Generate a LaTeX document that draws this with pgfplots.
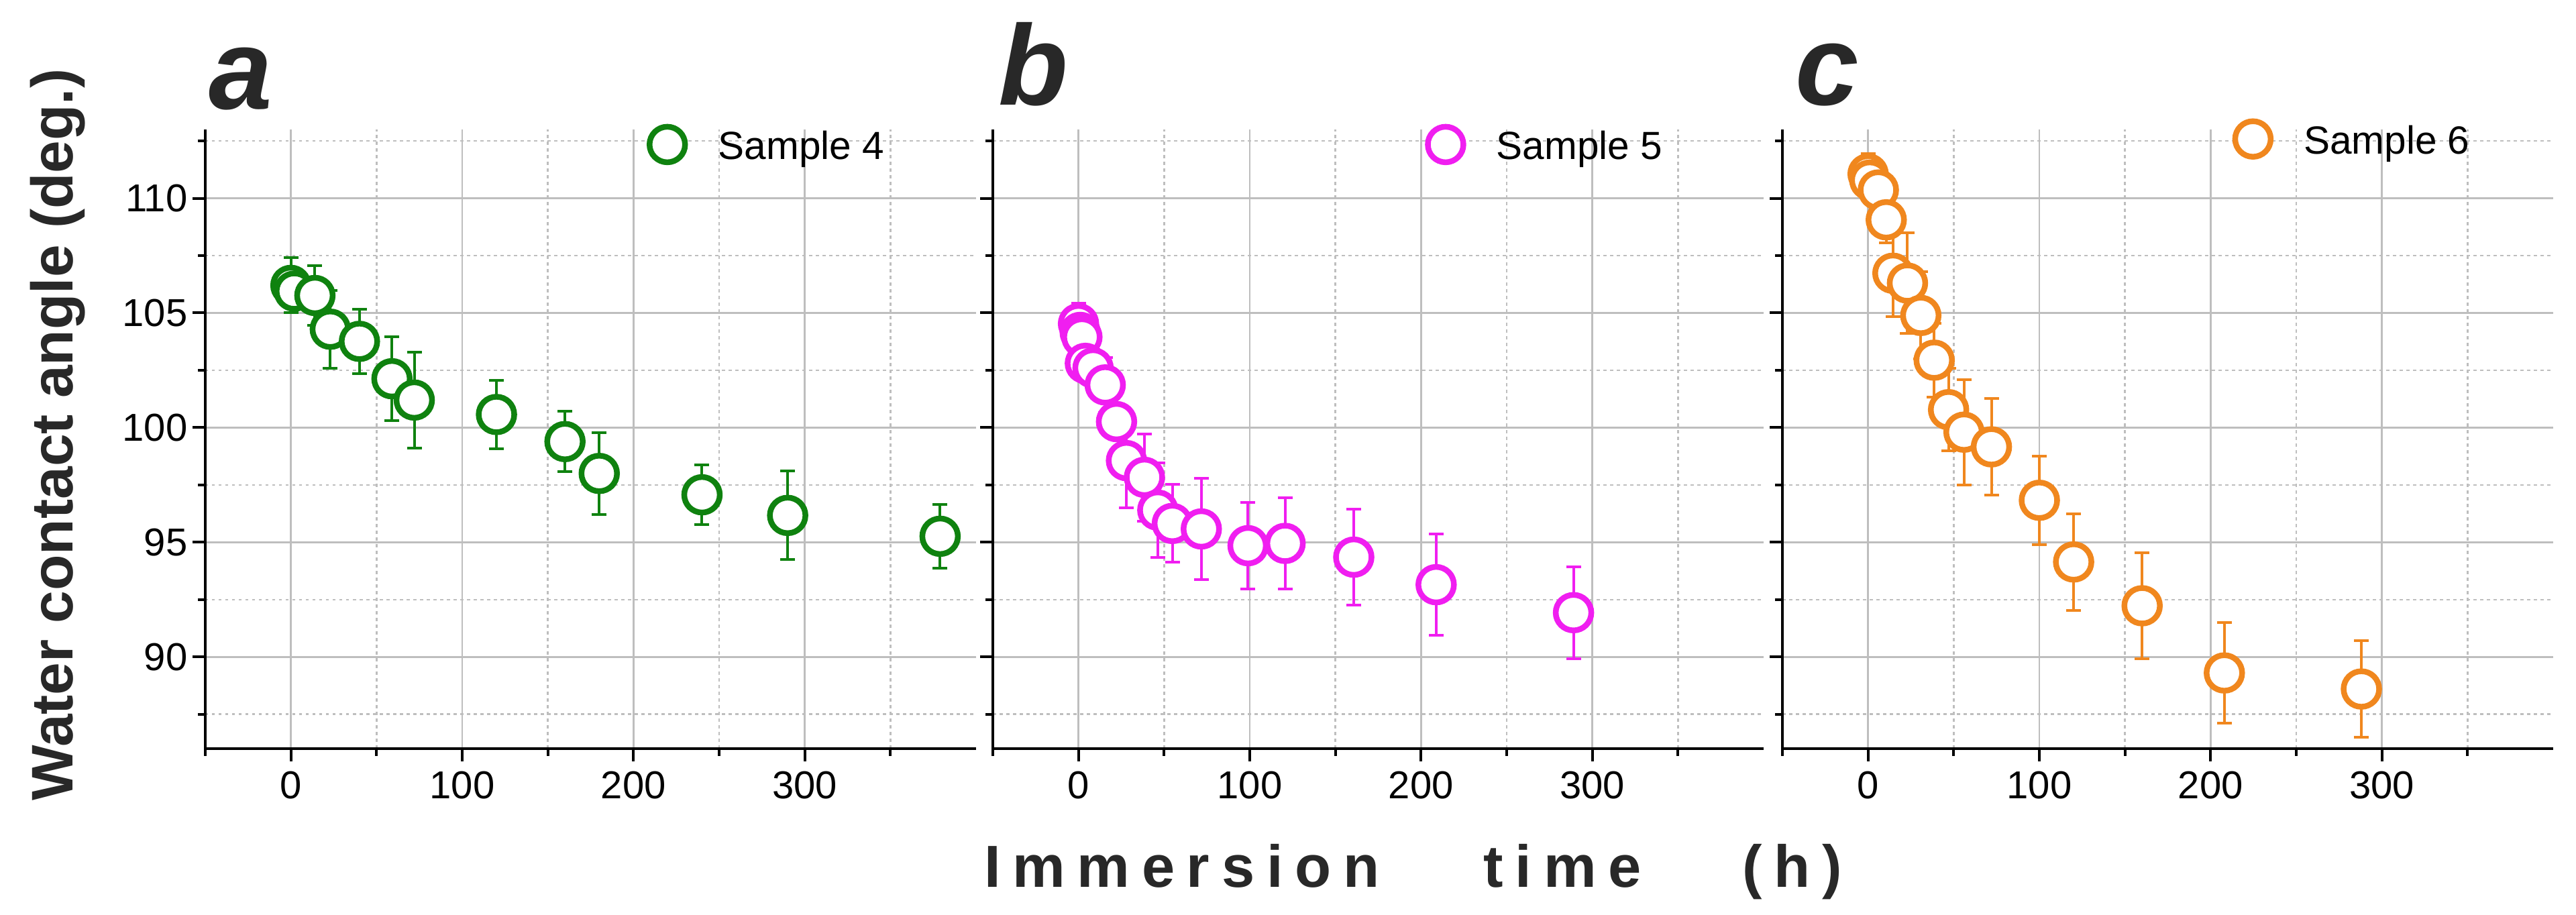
\documentclass[border=0pt]{standalone}
\usepackage{fontspec}
\setmainfont{Liberation Sans}
\newfontfamily\spaced[LetterSpace=20]{Liberation Sans}
\usepackage{pgfplots}
\pgfplotsset{compat=1.18}
\definecolor{cA}{RGB}{15,130,15}
\definecolor{cB}{RGB}{240,30,240}
\definecolor{cC}{RGB}{240,135,30}
\definecolor{gridc}{RGB}{190,190,190}
\definecolor{txt}{RGB}{40,40,40}
\pgfplotsset{
  panel/.style={
    at={(#1,49.6pt)}, anchor=south west,
    scale only axis, width=229.8pt, height=184.6pt,
    xmin=-50, xmax=400, ymin=86, ymax=113,
    axis x line*=bottom, axis y line*=left,
    axis line style={line width=0.8pt, black, -},
    xtick={0,100,200,300}, minor xtick={-50,50,150,250,350},
    ytick={90,95,100,105,110}, minor ytick={87.5,92.5,97.5,102.5,107.5,112.5},
    tick align=outside, major tick length=3.8pt, minor tick length=2.2pt,
    tick style={line width=0.8pt, black},
    grid=both,
    major grid style={gridc, line width=0.5pt, solid},
    minor grid style={gridc, line width=0.5pt, dash pattern=on 0.9pt off 1.1pt},
    ticklabel style={font=\fontsize{11.6}{13}\selectfont, text=black},
    xticklabel style={inner sep=0pt, anchor=north, yshift=-2.8pt},
    yticklabel style={inner sep=0pt, anchor=east, xshift=-1.3pt},
    /pgf/number format/assume math mode=true,
    legend style={draw=none, fill=none, inner sep=0pt, outer sep=0pt, anchor=west,
      font=\fontsize{11.7}{13}\selectfont,
      /tikz/every odd column/.append style={column sep=6.9pt}},
    legend image code/.code={\path[draw=none,fill=none] (-6.3pt,-2.1pt) rectangle (6.3pt,9.9pt);
      \draw[##1] plot coordinates {(0pt,0.9pt)};},
  },
  ser/.style={only marks, mark=*, mark size=5.3pt, line width=1.7pt, color=#1,
    mark options={fill=white, draw=#1, line width=1.7pt},
    error bars/.cd, y dir=both, y explicit,
    error bar style={line width=0.8pt, #1},
    error mark options={rotate=90, line width=0.8pt, mark size=2.2pt, #1}},
}
\begin{document}
\begin{tikzpicture}
\useasboundingbox (0,0) rectangle (768pt,272.8pt);
% panel a
\begin{axis}[panel=61.2pt, legend style={at={(0.572,0.9787)}}]
\addplot[ser=cA] table[x index=0, y index=1, y error index=2] {
0   106.20 1.20
2   105.95 0.50
14  105.76 1.30
23  104.29 1.70
40  103.76 1.40
59  102.13 1.83
72  101.20 2.10
120 100.57 1.50
160 99.39  1.31
180 98.00  1.78
240 97.07  1.30
290 96.17  1.93
379 95.26  1.40
};
\addlegendentry{Sample 4}
\end{axis}
% panel b
\begin{axis}[panel=296pt, yticklabels={}, legend style={at={(0.560,0.9787)}}]
\addplot[ser=cB] table[x index=0, y index=1, y error index=2] {
0     104.53 0.88
1     104.15 0.80
2     103.95 0.80
4     102.80 0.80
8.5   102.60 0.80
15.6  101.86 1.20
22.2  100.26 0.60
28    98.56  2.06
38.5  97.83  1.90
46.3  96.40  2.07
54.8  95.82  1.70
71.7  95.58  2.20
99    94.85  1.90
120.6 94.95  2.00
160.7 94.35  2.10
208.8 93.15  2.20
289   91.93  2.00
};
\addlegendentry{Sample 5}
\end{axis}
% panel c
\begin{axis}[panel=531.4pt, yticklabels={}, legend style={at={(0.583,0.9876)}}]
\addplot[ser=cC] table[x index=0, y index=1, y error index=2] {
0    111.06 0.90
1    110.79 0.90
6    110.36 1.00
10.6 109.06 1.00
14.5 106.73 1.90
23   106.30 2.20
30.8 104.89 1.90
38.6 102.94 1.60
47   100.78 1.80
56   99.80  2.30
72   99.16  2.10
100  96.83  1.93
120  94.14  2.10
160  92.23  2.30
208  89.30  2.20
288  88.60  2.10
};
\addlegendentry{Sample 6}
\end{axis}
% panel letters
\node[anchor=base west, inner sep=0pt, text=txt, font=\fontsize{34}{40}\selectfont\bfseries\itshape] at (62pt,240.2pt) {a};
\node[anchor=base west, inner sep=0pt, text=txt, font=\fontsize{34}{40}\selectfont\bfseries\itshape] at (297.5pt,241.4pt) {b};
\node[anchor=base west, inner sep=0pt, text=txt, font=\fontsize{34}{40}\selectfont\bfseries\itshape] at (535pt,241.4pt) {c};
% axis labels
\node[rotate=90, anchor=base, inner sep=0pt, text=txt, font=\fontsize{17.5}{20}\selectfont\bfseries] at (21.6pt,143.2pt) {Water contact angle (deg.)};
\node[anchor=base west, inner sep=0pt, text=txt, font=\spaced\fontsize{17.7}{20}\selectfont\bfseries] at (293.2pt,8.2pt) {Immersion};
\node[anchor=base west, inner sep=0pt, text=txt, font=\spaced\fontsize{17.7}{20}\selectfont\bfseries] at (442.1pt,8.2pt) {time};
\node[anchor=base west, inner sep=0pt, text=txt, font=\spaced\fontsize{17.7}{20}\selectfont\bfseries] at (519.3pt,8.2pt) {(h)};
\end{tikzpicture}
\end{document}
